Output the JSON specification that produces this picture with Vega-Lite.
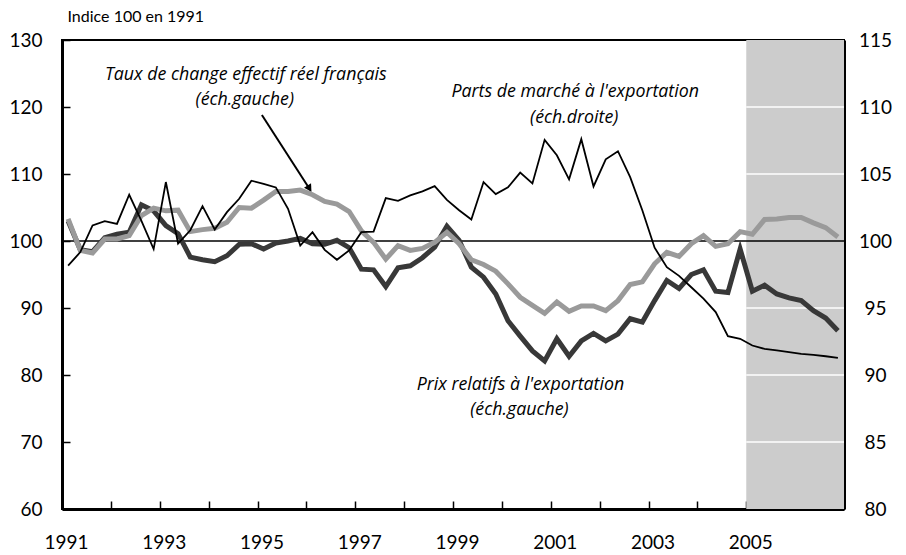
{
  "$schema": "https://vega.github.io/schema/vega-lite/v6.json",
  "width": 782,
  "height": 469,
  "autosize": {"type": "none"},
  "padding": {"left": 62, "top": 40, "right": 62, "bottom": 46},
  "background": "white",
  "config": {
    "font": "Lato",
    "view": {"stroke": "black", "strokeWidth": 2},
    "axis": {"domainColor": "black", "domainWidth": 3, "tickColor": "black", "tickWidth": 1.5, "tickSize": -8, "labelFont": "Lato", "labelFontSize": 19, "labelColor": "black", "grid": false, "zindex": 1, "labelFlush": false, "labelOverlap": false}
  },
  "datasets": {
    "series": [
      {"t":1991.125,"taux":103.3,"prix":103.0,"parts":98.17},
      {"t":1991.375,"taux":98.6,"prix":98.7,"parts":99.17},
      {"t":1991.625,"taux":98.2,"prix":98.4,"parts":101.16},
      {"t":1991.875,"taux":100.3,"prix":100.5,"parts":101.48},
      {"t":1992.125,"taux":100.3,"prix":101.0,"parts":101.28},
      {"t":1992.375,"taux":100.8,"prix":101.3,"parts":103.45},
      {"t":1992.625,"taux":103.8,"prix":105.4,"parts":101.5},
      {"t":1992.875,"taux":104.9,"prix":104.5,"parts":99.4},
      {"t":1993.125,"taux":104.5,"prix":102.3,"parts":104.4},
      {"t":1993.375,"taux":104.6,"prix":101.1,"parts":99.8},
      {"t":1993.625,"taux":101.4,"prix":97.6,"parts":100.8},
      {"t":1993.875,"taux":101.7,"prix":97.2,"parts":102.6},
      {"t":1994.125,"taux":101.9,"prix":96.9,"parts":100.86},
      {"t":1994.375,"taux":102.8,"prix":97.8,"parts":102.15},
      {"t":1994.625,"taux":105.0,"prix":99.5,"parts":103.15},
      {"t":1994.875,"taux":104.9,"prix":99.6,"parts":104.5},
      {"t":1995.125,"taux":106.1,"prix":98.8,"parts":104.27},
      {"t":1995.375,"taux":107.4,"prix":99.7,"parts":104.0},
      {"t":1995.625,"taux":107.4,"prix":100.0,"parts":102.4},
      {"t":1995.875,"taux":107.6,"prix":100.4,"parts":99.66},
      {"t":1996.125,"taux":106.9,"prix":99.6,"parts":100.66},
      {"t":1996.375,"taux":105.9,"prix":99.5,"parts":99.34},
      {"t":1996.625,"taux":105.5,"prix":100.1,"parts":98.6},
      {"t":1996.875,"taux":104.4,"prix":99.0,"parts":99.3},
      {"t":1997.125,"taux":101.5,"prix":95.8,"parts":100.66},
      {"t":1997.375,"taux":99.8,"prix":95.7,"parts":100.7},
      {"t":1997.625,"taux":97.3,"prix":93.2,"parts":103.2},
      {"t":1997.875,"taux":99.3,"prix":96.0,"parts":103.0},
      {"t":1998.125,"taux":98.6,"prix":96.3,"parts":103.4},
      {"t":1998.375,"taux":98.9,"prix":97.5,"parts":103.7},
      {"t":1998.625,"taux":99.8,"prix":99.1,"parts":104.1},
      {"t":1998.875,"taux":101.3,"prix":102.2,"parts":103.07},
      {"t":1999.125,"taux":99.6,"prix":100.1,"parts":102.3},
      {"t":1999.375,"taux":97.2,"prix":96.1,"parts":101.6},
      {"t":1999.625,"taux":96.5,"prix":94.6,"parts":104.4},
      {"t":1999.875,"taux":95.5,"prix":92.1,"parts":103.5},
      {"t":2000.125,"taux":93.6,"prix":88.1,"parts":104.0},
      {"t":2000.375,"taux":91.6,"prix":85.8,"parts":105.1},
      {"t":2000.625,"taux":90.4,"prix":83.6,"parts":104.3},
      {"t":2000.875,"taux":89.2,"prix":82.1,"parts":107.55},
      {"t":2001.125,"taux":90.9,"prix":85.4,"parts":106.4},
      {"t":2001.375,"taux":89.5,"prix":82.8,"parts":104.6},
      {"t":2001.625,"taux":90.3,"prix":85.1,"parts":107.6},
      {"t":2001.875,"taux":90.3,"prix":86.2,"parts":104.07},
      {"t":2002.125,"taux":89.6,"prix":85.1,"parts":106.1},
      {"t":2002.375,"taux":91.1,"prix":86.1,"parts":106.7},
      {"t":2002.625,"taux":93.5,"prix":88.4,"parts":104.76},
      {"t":2002.875,"taux":93.9,"prix":87.9,"parts":102.28},
      {"t":2003.125,"taux":96.6,"prix":91.1,"parts":99.5},
      {"t":2003.375,"taux":98.3,"prix":94.1,"parts":98.05},
      {"t":2003.625,"taux":97.7,"prix":92.9,"parts":97.4},
      {"t":2003.875,"taux":99.6,"prix":95.0,"parts":96.55},
      {"t":2004.125,"taux":100.8,"prix":95.7,"parts":95.7},
      {"t":2004.375,"taux":99.2,"prix":92.5,"parts":94.7},
      {"t":2004.625,"taux":99.6,"prix":92.3,"parts":92.9},
      {"t":2004.875,"taux":101.4,"prix":98.8,"parts":92.7},
      {"t":2005.125,"taux":101.0,"prix":92.5,"parts":92.2},
      {"t":2005.375,"taux":103.2,"prix":93.4,"parts":91.95},
      {"t":2005.625,"taux":103.3,"prix":92.1,"parts":91.83},
      {"t":2005.875,"taux":103.5,"prix":91.5,"parts":91.7},
      {"t":2006.125,"taux":103.5,"prix":91.1,"parts":91.58},
      {"t":2006.375,"taux":102.7,"prix":89.6,"parts":91.5},
      {"t":2006.625,"taux":102.0,"prix":88.5,"parts":91.4},
      {"t":2006.875,"taux":100.6,"prix":86.6,"parts":91.28}
    ],
    "shade": [{"a": 2005, "b": 2007}],
    "grid": [
      {"g": 70, "a": 2005, "b": 2007},
      {"g": 80, "a": 2005, "b": 2007},
      {"g": 90, "a": 2005, "b": 2007},
      {"g": 110, "a": 2005, "b": 2007},
      {"g": 120, "a": 2005, "b": 2007}
    ],
    "base": [{"v": 100}],
    "notes": [
      {"x": 1994.76, "y": 124.8, "text": "Taux de change effectif réel français"},
      {"x": 1994.74, "y": 121.0, "text": "(éch.gauche)"},
      {"x": 2001.5, "y": 122.2, "text": "Parts de marché à l'exportation"},
      {"x": 2001.48, "y": 118.4, "text": "(éch.droite)"},
      {"x": 2000.38, "y": 78.5, "text": "Prix relatifs à l'exportation"},
      {"x": 2000.36, "y": 74.8, "text": "(éch.gauche)"}
    ],
    "arrow": [{"x1": 1995.09, "y1": 118.8, "x2": 1996.08, "y2": 107.6, "hx": 1996.064, "hy": 107.82}]
  },
  "layer": [
    {
      "layer": [
        {
          "data": {"name": "shade"},
          "mark": {"type": "rect", "color": "#cccccc"},
          "encoding": {
            "x": {"field": "a", "type": "quantitative", "title": null, "scale": {"domain": [1991, 2007], "nice": false, "zero": false},
              "axis": {"values": [1991,1992,1993,1994,1995,1996,1997,1998,1999,2000,2001,2002,2003,2004,2005,2006,2007], "format": "d", "labelExpr": "datum.value % 2 == 1 && datum.value < 2006 ? datum.label : ''", "labelBaseline": "alphabetic", "labelPadding": 47, "labelAlign": "center", "labelOffset": 4}},
            "x2": {"field": "b"}
          }
        },
        {
          "data": {"name": "grid"},
          "mark": {"type": "rule", "color": "white", "strokeWidth": 1.5},
          "encoding": {
            "x": {"field": "a", "type": "quantitative", "title": null},
            "x2": {"field": "b"},
            "y": {"field": "g", "type": "quantitative", "scale": {"domain": [60, 130], "nice": false, "zero": false},
              "axis": {"orient": "left", "values": [60,70,80,90,100,110,120,130], "labelPadding": 28, "title": "Indice 100 en 1991", "titleAngle": 0, "titleAlign": "left", "titleBaseline": "alphabetic", "titleX": 5, "titleY": -19, "titleFont": "Lato", "titleFontSize": 16, "titleFontWeight": "normal", "titleColor": "black"}}
          }
        },
        {
          "data": {"name": "base"},
          "mark": {"type": "rule", "color": "black", "strokeWidth": 1.5},
          "encoding": {"y": {"field": "v", "type": "quantitative", "title": "Indice 100 en 1991"}}
        },
        {
          "data": {"name": "series"},
          "mark": {"type": "line", "color": "#383838", "strokeWidth": 5, "strokeJoin": "miter"},
          "encoding": {
            "x": {"field": "t", "type": "quantitative", "title": null},
            "y": {"field": "prix", "type": "quantitative", "title": "Indice 100 en 1991"}
          }
        },
        {
          "data": {"name": "series"},
          "mark": {"type": "line", "color": "#9a9a9a", "strokeWidth": 5, "strokeJoin": "miter"},
          "encoding": {
            "x": {"field": "t", "type": "quantitative", "title": null},
            "y": {"field": "taux", "type": "quantitative", "title": "Indice 100 en 1991"}
          }
        },
        {
          "data": {"name": "arrow"},
          "mark": {"type": "rule", "color": "black", "strokeWidth": 2},
          "encoding": {
            "x": {"field": "x1", "type": "quantitative", "title": null},
            "y": {"field": "y1", "type": "quantitative", "title": "Indice 100 en 1991"},
            "x2": {"field": "x2"},
            "y2": {"field": "y2"}
          }
        },
        {
          "data": {"name": "arrow"},
          "mark": {"type": "point", "shape": "triangle-down", "filled": true, "color": "black", "size": 70, "angle": 327, "opacity": 1},
          "encoding": {
            "x": {"field": "hx", "type": "quantitative", "title": null},
            "y": {"field": "hy", "type": "quantitative", "title": "Indice 100 en 1991"}
          }
        },
        {
          "data": {"name": "notes"},
          "mark": {"type": "text", "fontStyle": "italic", "fontSize": 17.8, "align": "center", "baseline": "middle", "color": "black", "font": "Open Sans"},
          "encoding": {
            "x": {"field": "x", "type": "quantitative", "title": null},
            "y": {"field": "y", "type": "quantitative", "title": "Indice 100 en 1991"},
            "text": {"field": "text"}
          }
        }
      ]
    },
    {
      "data": {"name": "series"},
      "mark": {"type": "line", "color": "black", "strokeWidth": 1.8, "strokeJoin": "miter"},
      "encoding": {
        "x": {"field": "t", "type": "quantitative", "title": null},
        "y": {"field": "parts", "type": "quantitative", "title": null, "scale": {"domain": [80, 115], "nice": false, "zero": false},
          "axis": {"orient": "right", "values": [80,85,90,95,100,105,110,115], "labelAlign": "center", "labelPadding": 39, "title": null}}
      }
    }
  ],
  "resolve": {"scale": {"y": "independent"}}
}
